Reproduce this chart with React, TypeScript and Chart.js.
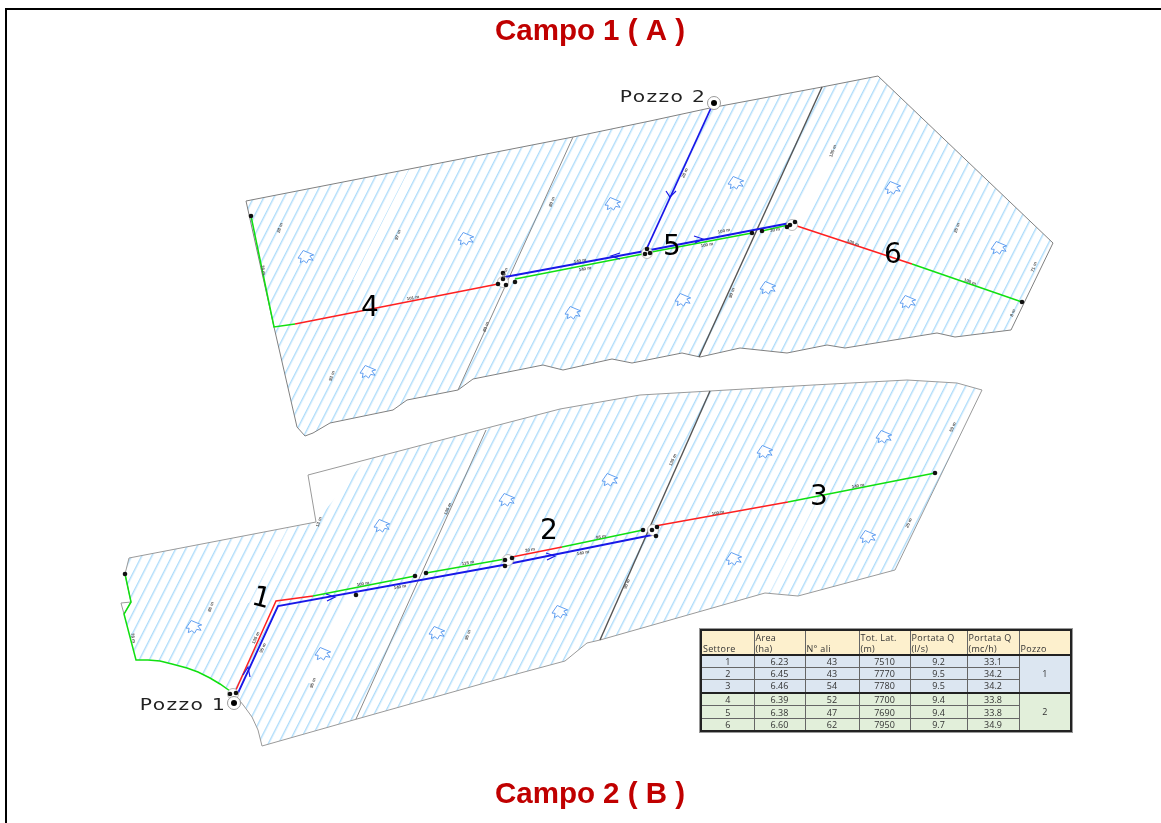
import React, { useEffect, useRef } from "react";
import { Chart, registerables } from "chart.js";

Chart.register(...registerables);

type P = [number, number];
type L = [string, number, number, number];

const titles: L[] = [["Campo 1 ( A )", 590, 32, 0], ["Campo 2 ( B )", 590, 795, 0]];
const sectorNumbers: L[] = [["1", 261, 599, 15], ["2", 549, 532, 0], ["3", 819, 498, 0], ["4", 370, 309, 0], ["5", 672, 248, 0], ["6", 893, 256, 0]];
const wellNames: L[] = [["Pozzo 1", 183, 706, 0], ["Pozzo 2", 663, 98, 0]];

const upperField: P[] = [[246, 201], [573, 137], [650, 121], [710, 108], [822, 87], [878, 76], [1053, 243], [1011, 330], [955, 337], [937, 333], [845, 348], [827, 345], [787, 353], [740, 348], [700, 357], [682, 353], [632, 363], [612, 359], [563, 370], [543, 365], [473, 379], [458, 390], [407, 400], [393, 410], [330, 423], [313, 433], [305, 436], [297, 427], [274, 327], [246, 201]];
const lowerField: P[] = [[131, 602], [121, 603], [124, 614], [131, 602], [125, 574], [129, 558], [316, 522], [308, 475], [365, 460], [487, 428], [560, 409], [640, 395], [710, 391], [813, 385], [907, 380], [957, 383], [982, 390], [895, 570], [798, 596], [765, 593], [600, 640], [587, 643], [565, 661], [513, 675], [357, 719], [262, 746], [258, 730], [252, 717], [244, 706], [236, 696]];
const lowerHatch: P[] = [[124, 614], [131, 602], [125, 574], [129, 558], [316, 522], [365, 460], [487, 428], [560, 409], [640, 395], [710, 391], [813, 385], [907, 380], [957, 383], [982, 390], [895, 570], [798, 596], [765, 593], [600, 640], [587, 643], [565, 661], [513, 675], [357, 719], [262, 746], [258, 730], [252, 717], [244, 706], [236, 696], [220, 684], [210, 678], [198, 672], [187, 668], [172, 664], [160, 661], [148, 660], [136, 660]];
const hatchGaps: P[][] = [
  [[414, 160], [423, 160], [362, 280], [353, 280], [414, 160]],
  [[829, 150], [838, 150], [795, 235], [786, 235], [829, 150]],
  [[352, 593], [361, 593], [316, 683], [307, 683], [352, 593]],
  [[809, 498], [818, 498], [770, 592], [761, 592], [809, 498]],
  [[279, 527], [288, 527], [249, 603], [240, 603], [279, 527]],
];
const thinDividers: P[][] = [[[458, 390], [573, 137]], [[356, 719], [486, 430]]];
const darkDividers: P[][] = [[[699, 357], [822, 87]], [[600, 640], [710, 391]]];

const redPipes: P[][] = [[[295, 324], [498, 284]], [[797, 226], [912, 264]], [[235, 692], [276, 601], [313, 596]], [[512, 557], [562, 547]], [[655, 526], [788, 502]]];
const greenPipes: P[][] = [[[251, 216], [274, 327], [295, 324]], [[515, 279], [643, 254]], [[646, 253], [752, 233]], [[762, 231], [788, 225]], [[912, 264], [1022, 302]], [[125, 574], [131, 602], [124, 614], [136, 660], [148, 660], [160, 661], [172, 664], [187, 668], [198, 672], [210, 678], [220, 684], [230, 691]], [[313, 596], [415, 576]], [[426, 573], [505, 559]], [[562, 547], [643, 530]], [[788, 502], [935, 473]]];
const bluePipes: P[][] = [[[505, 277], [645, 251], [790, 223]], [[711, 108], [647, 248]], [[238, 693], [278, 606], [503, 565], [652, 535]]];
const arrowHeads: P[][] = [[[243, 675], [248, 667], [250, 677]], [[326, 594], [335, 597], [327, 601]], [[546, 553], [555, 556], [547, 560]], [[666, 191], [670, 197], [676, 191]], [[694, 236], [703, 239], [695, 243]], [[620, 253], [611, 256], [620, 259]]];

const rings: P[] = [[503, 282], [647, 253], [792, 225], [233, 694], [508, 560], [653, 530]];
const nodes: P[] = [[251, 216], [498, 284], [503, 279], [506, 285], [515, 282], [503, 273], [645, 254], [650, 253], [647, 249], [752, 233], [762, 231], [790, 225], [795, 222], [787, 227], [1022, 302], [125, 574], [230, 694], [236, 693], [356, 595], [415, 576], [426, 573], [505, 560], [512, 558], [505, 566], [643, 530], [652, 530], [657, 527], [656, 536], [935, 473]];
const wells: P[] = [[234, 703], [714, 103]];
const flowIcons: P[] = [[306, 257], [466, 239], [613, 204], [736, 183], [893, 188], [999, 248], [908, 302], [768, 288], [683, 300], [573, 313], [368, 372], [382, 526], [507, 500], [194, 627], [323, 654], [437, 633], [610, 480], [765, 452], [884, 437], [868, 537], [734, 559], [560, 612]];

const tinyLabels: L[] = [
  ["28 m", 280, 228, -70], ["97 m", 398, 235, -70], ["80 m", 552, 202, -70], ["78 m", 263, 270, 80], ["101 m", 413, 298, -10], ["140 m", 580, 261, -10], ["140 m", 585, 269, -10], ["40 m", 505, 273, -70], ["80 m", 486, 327, -70], ["93 m", 332, 376, -70],
  ["28 m", 685, 173, -65], ["135 m", 833, 151, -70], ["25 m", 957, 228, -70], ["71 m", 1034, 267, -70], ["8 m", 1013, 313, -70], ["90 m", 732, 293, -70], ["100 m", 853, 243, 20], ["100 m", 970, 282, 20], ["100 m", 707, 245, -10], ["100 m", 724, 231, -12], ["30 m", 775, 230, -10],
  ["13 m", 319, 522, -70], ["135 m", 448, 509, -65], ["86 m", 211, 607, -70], ["78 m", 133, 638, 80], ["135 m", 256, 638, -65], ["95 m", 263, 648, -65], ["95 m", 313, 683, -70], ["100 m", 363, 584, -10], ["140 m", 400, 587, -10], ["95 m", 468, 635, -70], ["115 m", 468, 563, -10],
  ["30 m", 530, 550, -10], ["95 m", 601, 537, -10], ["140 m", 583, 553, -10], ["135 m", 673, 460, -65], ["90 m", 627, 584, -65], ["100 m", 718, 513, -10], ["140 m", 858, 486, -10], ["59 m", 953, 427, -65], ["25 m", 909, 523, -65],
];

const tableHeader = ["Settore", "Area\n(ha)", "N° ali", "Tot. Lat.\n(m)", "Portata Q\n(l/s)", "Portata Q\n(mc/h)", "Pozzo"];
const sectorIds = ["1", "2", "3", "4", "5", "6"];
const areas = ["6.23", "6.45", "6.46", "6.39", "6.38", "6.60"];
const wingCounts = ["43", "43", "54", "52", "47", "62"];
const lateralTotals = ["7510", "7770", "7780", "7700", "7690", "7950"];
const flowLs = ["9.2", "9.5", "9.5", "9.4", "9.4", "9.7"];
const flowMch = ["33.1", "34.2", "34.2", "33.8", "33.8", "34.9"];
const wellGroups = ["1", "2"];

const columnWidths = [53, 51, 54, 51, 57, 52, 52];
const rowHeights = [12, 12, 13, 13, 13, 12];

function hatchPattern(): CanvasPattern | string {
  const tile = document.createElement("canvas");
  tile.width = 8;
  tile.height = 9;
  const c = tile.getContext("2d")!;
  c.fillStyle = "#ffffff";
  c.fillRect(0, 0, 8, 9);
  c.fillStyle = "#aedcfa";
  c.fillRect(0, 0, 8, 1.4);
  const p = c.createPattern(tile, "repeat");
  if (!p) return "#ffffff";
  p.setTransform(new DOMMatrix().rotate(-63));
  return p;
}

function iconCanvas(): HTMLCanvasElement {
  const cv = document.createElement("canvas");
  cv.width = 24;
  cv.height = 20;
  const c = cv.getContext("2d")!;
  c.translate(12, 10);
  c.rotate((-15 * Math.PI) / 180);
  c.strokeStyle = "#5f9df0";
  c.lineWidth = 0.9;
  c.fillStyle = "rgba(255,255,255,0.85)";
  c.beginPath();
  c.moveTo(-1, -7);
  c.lineTo(8, 0);
  c.lineTo(4, 0);
  c.lineTo(6, 5);
  c.lineTo(2, 3);
  c.lineTo(-1, 6);
  c.lineTo(-3, 3);
  c.lineTo(-7, 4);
  c.lineTo(-5, 0);
  c.lineTo(-8, -1);
  c.closePath();
  c.fill();
  c.stroke();
  return cv;
}

const toXY = (pts: P[]) => pts.map(([x, y]) => ({ x, y }));

const textPlugin = {
  id: "mapText",
  afterDatasetsDraw(chart: any) {
    const { ctx, scales } = chart;
    const put = (items: L[], font: string, color: string, spacing = "0px", stretch = 1) => {
      for (const [t, x, y, a] of items) {
        ctx.save();
        ctx.translate(scales.x.getPixelForValue(x), scales.y.getPixelForValue(y));
        ctx.rotate((a * Math.PI) / 180);
        ctx.scale(stretch, 1);
        ctx.font = font;
        ctx.fillStyle = color;
        ctx.textAlign = "center";
        ctx.textBaseline = "middle";
        ctx.letterSpacing = spacing;
        ctx.fillText(t, 0, 0);
        ctx.restore();
      }
    };
    put(tinyLabels, "bold 4.5px 'Liberation Sans'", "#555555");
    put(sectorNumbers, "28px 'DejaVu Sans'", "#000000");
    put(wellNames, "15px 'DejaVu Sans'", "#222222", "1px", 1.35);
    put(titles, "bold 29.5px 'Liberation Sans'", "#c00000");
  },
};

const cellBase: React.CSSProperties = {
  border: "1px solid #666",
  padding: 0,
  textAlign: "center",
  fontFamily: "'Open Sans', sans-serif",
  fontSize: 9,
  color: "#333",
  lineHeight: "11px",
  boxSizing: "border-box",
};

export default function App() {
  const ref = useRef<HTMLCanvasElement>(null);
  useEffect(() => {
    const line = (pts: P[], color: string, width: number, extra: object = {}) => ({
      data: toXY(pts),
      showLine: true,
      borderColor: color,
      borderWidth: width,
      pointRadius: 0,
      tension: 0,
      fill: false,
      ...extra,
    });
    const pattern = hatchPattern();
    const list: any[] = [
      line(upperField, "transparent", 0, { fill: "shape", backgroundColor: pattern }),
      line(lowerHatch, "transparent", 0, { fill: "shape", backgroundColor: pattern }),
      ...hatchGaps.map((g) => line(g, "transparent", 0, { fill: "shape", backgroundColor: "#ffffff" })),
      line(upperField, "#808080", 1),
      line(lowerField, "#9a9a9a", 1),
      ...thinDividers.map((d) => line(d, "#8a8a8a", 1)),
      ...darkDividers.map((d) => line(d, "#555555", 1.4)),
      ...redPipes.map((d) => line(d, "#ff2020", 1.5)),
      ...greenPipes.map((d) => line(d, "#10e010", 1.5)),
      ...bluePipes.map((d) => line(d, "#1818e8", 1.8)),
      ...arrowHeads.map((d) => line(d, "#1818e8", 1.2)),
      { data: toXY(flowIcons), pointStyle: iconCanvas(), pointRadius: 10, showLine: false },
      { data: toXY(rings), pointStyle: "circle", pointRadius: 5.5, borderColor: "#aaaaaa", borderWidth: 0.8, backgroundColor: "#ffffff", showLine: false },
      { data: toXY(nodes), pointStyle: "circle", pointRadius: 2.3, borderWidth: 0, backgroundColor: "#111111", showLine: false },
      { data: toXY(wells), pointStyle: "circle", pointRadius: 6.5, borderColor: "#999999", borderWidth: 1, backgroundColor: "#ffffff", showLine: false },
      { data: toXY(wells), pointStyle: "circle", pointRadius: 3, borderWidth: 0, backgroundColor: "#000000", showLine: false },
    ];
    list.forEach((d, i) => (d.order = -i));
    const chart = new Chart(ref.current!, {
      type: "scatter",
      data: { datasets: list },
      plugins: [textPlugin],
      options: {
        animation: false,
        responsive: false,
        devicePixelRatio: 1,
        layout: { padding: 0, autoPadding: false },
        plugins: { legend: { display: false }, tooltip: { enabled: false }, title: { display: false } },
        scales: {
          x: { type: "linear", min: 0, max: 1161, display: false },
          y: { type: "linear", min: 0, max: 823, reverse: true, display: false },
        },
      },
    } as any);
    return () => chart.destroy();
  }, []);

  const rowBg = (i: number) => (i < 3 ? "#dce6f1" : "#e2efda");
  return (
    <div style={{ position: "fixed", left: 0, top: 0, width: 1161, height: 823, overflow: "hidden", background: "#fff" }}>
      <canvas ref={ref} width={1161} height={823} style={{ position: "absolute", left: 0, top: 0, width: 1161, height: 823 }} />
      <div style={{ position: "absolute", left: 5, top: 8, width: 1300, height: 900, border: "2px solid #000", boxSizing: "border-box", pointerEvents: "none" }} />
      <table style={{ position: "absolute", left: 700, top: 629, width: 370, tableLayout: "fixed", borderCollapse: "collapse", border: "2px solid #222", boxShadow: "0 0 0 1px #999" }}>
        <colgroup>
          {columnWidths.map((w, i) => <col key={i} style={{ width: w }} />)}
        </colgroup>
        <thead>
          <tr style={{ height: 25 }}>
            {tableHeader.map((h, i) => (
              <th key={i} style={{ ...cellBase, background: "#fdf0cd", fontWeight: 400, textAlign: "left", verticalAlign: "bottom", paddingLeft: 1, whiteSpace: "pre-line", letterSpacing: 0.3, borderBottom: "2px solid #222" }}>{h}</th>
            ))}
          </tr>
        </thead>
        <tbody>
          {sectorIds.map((s, i) => (
            <tr key={s} style={{ height: rowHeights[i], borderTop: i === 3 ? "2px solid #222" : undefined }}>
              {[s, areas[i], wingCounts[i], lateralTotals[i], flowLs[i], flowMch[i]].map((v, j) => (
                <td key={j} style={{ ...cellBase, background: rowBg(i) }}>{v}</td>
              ))}
              {i % 3 === 0 && <td rowSpan={3} style={{ ...cellBase, background: rowBg(i) }}>{wellGroups[i / 3]}</td>}
            </tr>
          ))}
        </tbody>
      </table>
    </div>
  );
}
